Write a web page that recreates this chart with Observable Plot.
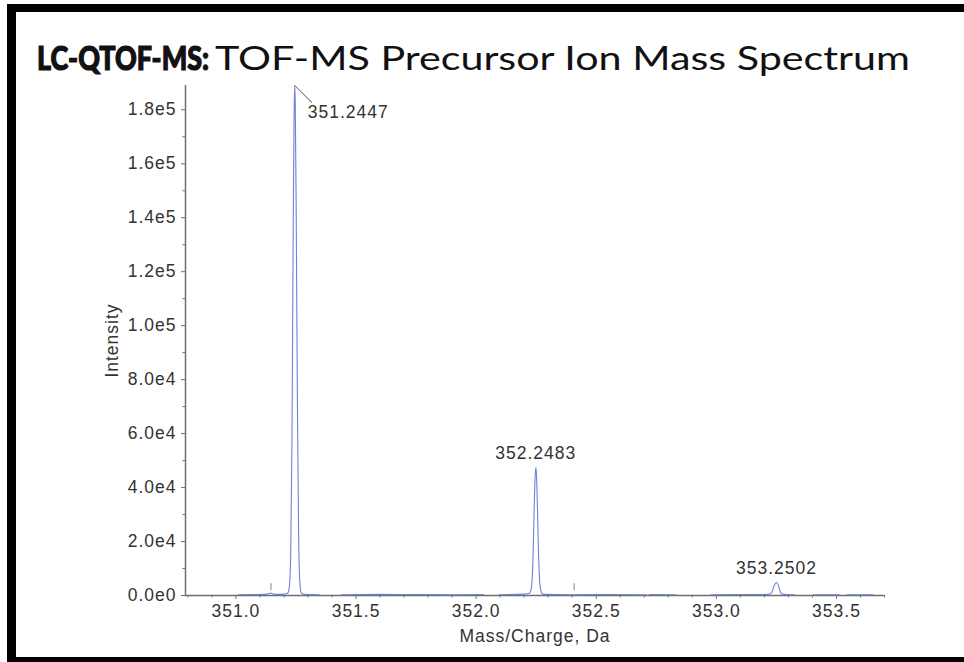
<!DOCTYPE html>
<html><head><meta charset="utf-8">
<script src="https://cdn.jsdelivr.net/npm/d3@7"></script>
<script src="https://cdn.jsdelivr.net/npm/@observablehq/plot@0.6"></script>
<style>
html,body{margin:0;padding:0;background:#fff;width:964px;height:662px;overflow:hidden;}
#wrap{position:relative;width:964px;height:662px;}
#frame{position:absolute;left:7px;top:4px;width:1000px;height:645px;border-top:8px solid #000;border-left:9px solid #000;border-bottom:10px solid #000;}
#title span{position:absolute;top:38px;white-space:nowrap;font-size:32px;line-height:40px;color:#111;font-family:"Lato","Open Sans",sans-serif;transform-origin:0 50%;}
#title .b{left:37px;font-weight:900;-webkit-text-stroke:1.2px #111;}
#title .r{left:215px;font-weight:400;}
#chart{position:absolute;left:0;top:80px;}
#chart svg{font-family:"Liberation Sans",Arial,sans-serif;}
</style>
</head><body>
<div id="wrap">
<div id="frame"></div>
<div id="title"><span class="b">LC-QTOF-MS:</span><span class="r">TOF-MS Precursor Ion Mass Spectrum</span></div>
<div id="chart"></div>
</div>
<script>
// ---- data ----
const xDomain = [350.79, 353.70];
const yDomain = [0, 189000];
const xTicks = [351.0, 351.5, 352.0, 352.5, 353.0, 353.5];
const xTickLabels = ["351.0", "351.5", "352.0", "352.5", "353.0", "353.5"];
const xMinor = [350.8,350.9,351.1,351.2,351.3,351.4,351.6,351.7,351.8,351.9,352.1,352.2,352.3,352.4,352.6,352.7,352.8,352.9,353.1,353.2,353.3,353.4,353.6,353.7];
const yTicks = [0, 20000, 40000, 60000, 80000, 100000, 120000, 140000, 160000, 180000];
const yTickLabels = ["0.0e0", "2.0e4", "4.0e4", "6.0e4", "8.0e4", "1.0e5", "1.2e5", "1.4e5", "1.6e5", "1.8e5"];
const yMinor = [10000, 30000, 50000, 70000, 90000, 110000, 130000, 150000, 170000];

// profile spectrum (m/z, intensity); null = gap in the acquired trace
const mz = [
  351.010, 351.080, 351.130, 351.145, 351.160, 351.200, 351.215, 351.222, 351.228, 351.233, 351.238, 351.242, 351.2447, 351.247, 351.251, 351.256, 351.261, 351.266, 351.272, 351.285, 351.346,
  351.39,
  351.44, 351.60, 351.75, 351.90, 352.03,
  352.06,
  352.096, 352.200, 352.222, 352.230, 352.236, 352.241, 352.2455, 352.2483, 352.251, 352.255, 352.260, 352.266, 352.273, 352.280, 352.400, 352.550, 352.708,
  352.714,
  352.721, 352.833,
  352.90,
  352.979, 353.100, 353.215, 353.230, 353.240, 353.2502, 353.259, 353.268, 353.280, 353.325,
  353.36,
  353.404, 353.512,
  353.53,
  353.542, 353.654
];
const intensity = [
  300, 350, 500, 900, 400, 500, 800, 3000, 15000, 55000, 130000, 178000, 189000, 182000, 140000, 70000, 22000, 5000, 1000, 400, 300,
  null,
  300, 400, 350, 300, 350,
  null,
  300, 500, 800, 3000, 12000, 30000, 44000, 47400, 45000, 33000, 15000, 3500, 900, 400, 300, 350, 300,
  null,
  350, 300,
  null,
  300, 350, 400, 1000, 3500, 4800, 3500, 1000, 400, 300,
  null,
  300, 300,
  null,
  300, 300
];

// labelled peaks
const peakMz = [351.2447, 352.2483, 353.2502];
const peakIntensity = [189000, 47400, 4800];
const peakLabels = ["351.2447", "352.2483", "353.2502"];

// small unlabelled peak markers
const markerMz = [351.146, 352.408];
const markerLow = [1800, 1800];
const markerHigh = [4400, 4400];

// ---- build tables ----
const spectrum = mz.map((m, i) => ({mz: m, intensity: intensity[i]}));
const peaks = peakMz.map((m, i) => ({mz: m, intensity: peakIntensity[i], label: peakLabels[i]}));
const markers = markerMz.map((m, i) => ({mz: m, y1: markerLow[i], y2: markerHigh[i]}));

const axisGrey = "#6e6e6e";
const textCol = "#333";
const fs = "17.5px";

const chart = Plot.plot({
  width: 964,
  height: 582,
  marginTop: 5,
  marginBottom: 67,
  marginLeft: 185,
  marginRight: 80,
  style: {fontSize: fs, letterSpacing: "1px", color: textCol, background: "transparent", overflow: "visible"},
  x: {domain: xDomain},
  y: {domain: yDomain},
  marks: [
    Plot.axisY({ticks: yMinor, tickSize: 2.5, tickFormat: () => "", label: null, stroke: axisGrey}),
    Plot.axisX({ticks: xMinor, tickSize: 2.5, tickFormat: () => "", label: null, stroke: axisGrey}),
    Plot.axisY({ticks: yTicks, tickSize: 4, tickPadding: 5, tickFormat: d => yTickLabels[yTicks.indexOf(d)],
      stroke: axisGrey, fill: textCol, label: "Intensity", labelArrow: "none", labelAnchor: "center", labelOffset: 80}),
    Plot.axisX({ticks: xTicks, tickSize: 4, tickPadding: 5, tickFormat: d => xTickLabels[xTicks.indexOf(d)],
      stroke: axisGrey, fill: textCol, label: "Mass/Charge, Da", labelArrow: "none", labelAnchor: "center", labelOffset: 46}),
    Plot.ruleX([xDomain[0]], {stroke: axisGrey, strokeWidth: 1.5}),
    Plot.ruleY([yDomain[0]], {stroke: axisGrey, strokeWidth: 1.5}),
    Plot.ruleX(markers, {x: "mz", y1: "y1", y2: "y2", stroke: "#888", strokeWidth: 1}),
    Plot.line(spectrum, {x: "mz", y: "intensity", stroke: "#6b82d6", strokeWidth: 1.1, curve: "monotone-x"}),
    Plot.vector(peaks.slice(0, 1), {x: "mz", y: "intensity", length: 24, rotate: 135, anchor: "start",
      stroke: "#777", strokeWidth: 1,
      shape: {draw(context, l) { context.moveTo(0, 0); context.lineTo(0, -l); }}}),
    Plot.text(peaks.slice(0, 1), {x: "mz", y: "intensity", text: "label", textAnchor: "start", dx: 13, dy: 27, fill: textCol}),
    Plot.text(peaks.slice(1), {x: "mz", y: "intensity", text: "label", textAnchor: "middle", dy: -14, fill: textCol})
  ]
});
document.getElementById("chart").appendChild(chart);

// stretch title spans horizontally to the reference widths
function fit(el, target) {
  const w = el.getBoundingClientRect().width;
  el.style.transform = "scaleX(" + (target / w) + ")";
}
fit(document.querySelector("#title .b"), 172);
fit(document.querySelector("#title .r"), 695);
</script>
</body></html>
